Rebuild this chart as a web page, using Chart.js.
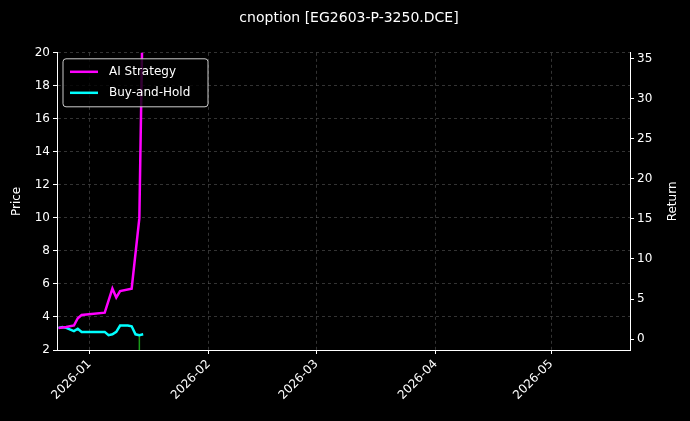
<!DOCTYPE html>
<html><head><meta charset="utf-8">
<script src="https://cdn.jsdelivr.net/npm/chart.js@4"></script>
<style>html,body{margin:0;background:#000}#wrap{width:690px;height:421px}</style>
</head><body><div id="wrap"><canvas id="c"></canvas></div>
<script>
// x values are days since 2026-01-01
const monthTicks = [0, 31, 59, 90, 120];
const monthLabels = ['2026-01', '2026-02', '2026-03', '2026-04', '2026-05'];
const aiStrategy = [[-8,1.4],[-6,1.5],[-4,1.7],[-3,2.6],[-2,3.0],[4,3.3],[6,6.3],[7,5.2],[8,6.0],[11,6.3],[13,15.1],[14,45]];
const buyHold = [[-8,1.4],[-7,1.5],[-6,1.4],[-4,1.0],[-3,1.3],[-2,0.9],[0,0.9],[4,0.9],[5,0.5],[6,0.6],[7,0.9],[8,1.7],[10,1.7],[11,1.6],[12,0.6],[13,0.5],[14,0.6]];
const candle = [[13,2.0],[13,2.9]];

const pts = a => a.map(p => ({x: p[0], y: p[1]}));
const font = {family: 'DejaVu Sans', size: 12};

const boxLegend = {
  id: 'boxLegend',
  afterDraw(chart) {
    const ctx = chart.ctx, a = chart.chartArea;
    const x = a.left + 6, y = a.top + 6;
    ctx.save();
    ctx.fillStyle = 'rgba(0,0,0,0.8)';
    ctx.strokeStyle = '#ccc';
    ctx.lineWidth = 1;
    ctx.beginPath();
    ctx.roundRect(x, y, 145, 48, 3);
    ctx.fill(); ctx.stroke();
    ctx.font = '12px DejaVu Sans';
    ctx.textBaseline = 'middle';
    [['AI Strategy', '#ff00ff'], ['Buy-and-Hold', '#00ffff']].forEach((it, i) => {
      const yy = y + 13 + i * 21;
      ctx.strokeStyle = it[1]; ctx.lineWidth = 2.5;
      ctx.beginPath(); ctx.moveTo(x + 7, yy); ctx.lineTo(x + 35, yy); ctx.stroke();
      ctx.fillStyle = '#fff';
      ctx.fillText(it[0], x + 46, yy);
    });
    // right axis title, rotated like matplotlib
    ctx.translate(673, (a.top + a.bottom) / 2);
    ctx.rotate(-Math.PI / 2);
    ctx.textAlign = 'center';
    ctx.fillText('Return', 0, 0);
    ctx.restore();
  }
};

const grid = {color: 'rgba(128,128,128,0.4)', tickColor: '#fff', tickLength: 4};

new Chart(document.getElementById('c'), {
  type: 'line',
  data: {
    datasets: [
      {label: 'AI Strategy', data: pts(aiStrategy), yAxisID: 'y2', borderColor: '#ff00ff', borderWidth: 2.5, pointRadius: 0, tension: 0},
      {label: 'Buy-and-Hold', data: pts(buyHold), yAxisID: 'y2', borderColor: '#00ffff', borderWidth: 2.5, pointRadius: 0, tension: 0},
      {label: 'candle', data: pts(candle), yAxisID: 'y', borderColor: '#1a9a1a', borderWidth: 1.5, pointRadius: 0}
    ]
  },
  options: {
    responsive: true, maintainAspectRatio: false, animation: false,
    layout: {padding: {left: 8}},
    plugins: {
      legend: {display: false},
      title: {display: true, text: 'cnoption [EG2603-P-3250.DCE]', color: '#fff', font: {family: 'DejaVu Sans', size: 14, weight: 'normal'}, padding: {top: 10, bottom: 26}}
    },
    scales: {
      x: {
        type: 'linear', min: -8.4, max: 140.5,
        afterBuildTicks: s => { s.ticks = monthTicks.map(v => ({value: v})); },
        afterFit: s => { s.height = 71; },
        ticks: {color: '#fff', font, maxRotation: 45, minRotation: 45, callback: v => monthLabels[monthTicks.indexOf(v)]},
        grid,
        border: {color: '#fff', dash: [3, 3]}
      },
      y: {
        position: 'left', min: 2, max: 20,
        afterFit: s => { s.width = 49; },
        ticks: {color: '#fff', font, stepSize: 2},
        title: {display: true, text: 'Price', color: '#fff', font, padding: 2},
        grid,
        border: {color: '#fff', dash: [3, 3]}
      },
      y2: {
        position: 'right', min: -1.36, max: 35.74,
        afterBuildTicks: s => { s.ticks = [0,5,10,15,20,25,30,35].map(v => ({value: v})); },
        afterFit: s => { s.width = 60; },
        ticks: {color: '#fff', font},
        grid: {drawOnChartArea: false, tickColor: '#fff', tickLength: 4},
        border: {color: '#fff'}
      }
    }
  },
  plugins: [boxLegend, {
    id: 'bg',
    beforeDraw(c) { c.ctx.save(); c.ctx.fillStyle = '#000'; c.ctx.fillRect(0, 0, c.width, c.height); c.ctx.restore(); }
  }]
});
</script></body></html>
